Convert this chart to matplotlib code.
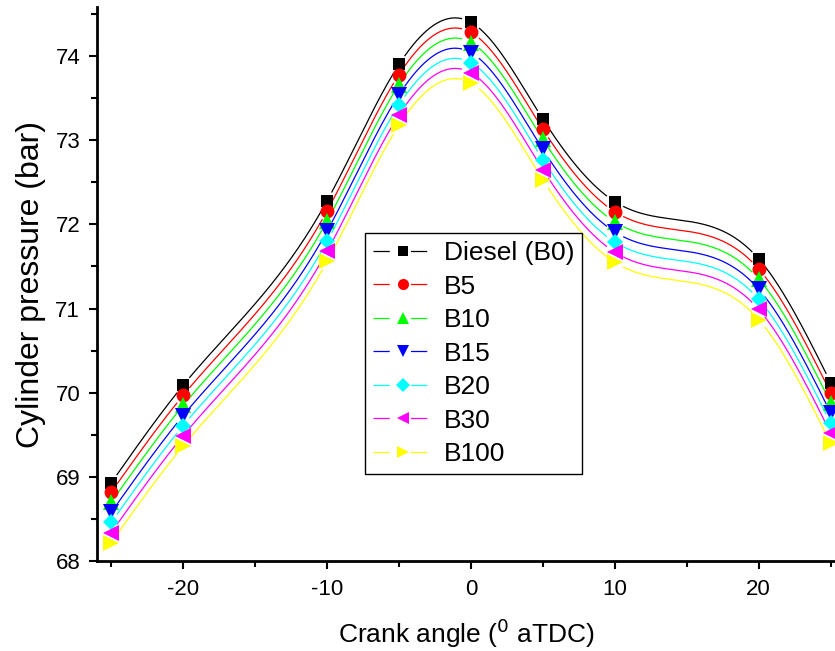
import numpy as np
import matplotlib
matplotlib.use("Agg")
import matplotlib.pyplot as plt
from matplotlib.lines import Line2D

plt.rcParams['font.family'] = ['Liberation Sans', 'DejaVu Sans']
plt.rcParams['axes.unicode_minus'] = False

# Crank angle positions (deg aTDC)
crank_angle = [-25, -20, -10, -5, 0, 5, 10, 20, 25]

# Cylinder pressure (bar) for each fuel blend
diesel_b0 = [68.93, 70.09, 72.28, 73.90, 74.40, 73.25, 72.27, 71.59, 70.12]
b5 = [68.82, 69.97, 72.16, 73.78, 74.28, 73.13, 72.15, 71.47, 70.00]
b10 = [68.70, 69.85, 72.04, 73.66, 74.16, 73.01, 72.03, 71.35, 69.88]
b15 = [68.58, 69.73, 71.92, 73.54, 74.04, 72.89, 71.91, 71.23, 69.76]
b20 = [68.46, 69.61, 71.80, 73.42, 73.92, 72.77, 71.79, 71.11, 69.64]
b30 = [68.34, 69.49, 71.68, 73.30, 73.80, 72.65, 71.67, 70.99, 69.52]
b100 = [68.22, 69.37, 71.56, 73.18, 73.68, 72.53, 71.55, 70.87, 69.40]

labels = ['Diesel (B0)', 'B5', 'B10', 'B15', 'B20', 'B30', 'B100']
series = [diesel_b0, b5, b10, b15, b20, b30, b100]
colors = ['#000000', '#ff0000', '#00ff00', '#0000ff', '#00ffff', '#ff00ff', '#ffff00']
markers = ['s', 'o', '^', 'v', 'D', '<', '>']
msizes = [8.5, 10, 11, 11, 8.5, 11, 11]


def natural_spline(x, y, xs):
    """Evaluate a natural cubic spline through (x, y) at xs."""
    x = np.asarray(x, float)
    y = np.asarray(y, float)
    n = len(x)
    h = np.diff(x)
    A = np.zeros((n, n))
    r = np.zeros(n)
    A[0, 0] = A[-1, -1] = 1.0
    for i in range(1, n - 1):
        A[i, i - 1] = h[i - 1]
        A[i, i] = 2 * (h[i - 1] + h[i])
        A[i, i + 1] = h[i]
        r[i] = 3 * ((y[i + 1] - y[i]) / h[i] - (y[i] - y[i - 1]) / h[i - 1])
    c = np.linalg.solve(A, r)
    b = (np.diff(y) / h) - h * (2 * c[:-1] + c[1:]) / 3
    d = np.diff(c) / (3 * h)
    idx = np.clip(np.searchsorted(x, xs) - 1, 0, n - 2)
    dx = xs - x[idx]
    return y[idx] + b[idx] * dx + c[idx] * dx ** 2 + d[idx] * dx ** 3


fig = plt.figure(figsize=(8.35, 6.51), dpi=100)
ax = fig.add_axes([0.116, 0.138, 0.884, 0.851])

xmin, xmax = -26.0, 25.3
ymin, ymax = 68.0, 74.58
ax.set_xlim(xmin, xmax)
ax.set_ylim(ymin, ymax)

# pixel scale of the axes, used to leave a gap in each curve around its symbols
px_x = 0.884 * 835 / (xmax - xmin)
px_y = 0.851 * 651 / (ymax - ymin)
gap_px = 10.0

xs = np.linspace(crank_angle[0], crank_angle[-1], 2000)
handles = []
for y, col, mk, ms in zip(series, colors, markers, msizes):
    ys = natural_spline(crank_angle, y, xs)
    near = np.zeros_like(xs, dtype=bool)
    for xp, yp in zip(crank_angle, y):
        dist = np.hypot((xs - xp) * px_x, (ys - yp) * px_y)
        near |= dist < gap_px
    ax.plot(xs, np.where(near, np.nan, ys), color=col, lw=0.9, zorder=2)
    ax.plot(crank_angle, y, linestyle='none', marker=mk, ms=ms, color=col,
            markeredgewidth=0, zorder=3, clip_on=False)
    seg = Line2D([], [], color=col, lw=0.9, dashes=(13, 17, 13, 100))
    sym = Line2D([], [], color=col, marker=mk, ms=ms * 0.8, linestyle='none',
                 markeredgewidth=0)
    handles.append((seg, sym))

leg = ax.legend(handles, labels, loc='upper left', bbox_to_anchor=(0.363, 0.592),
                borderaxespad=0, fontsize=19, handlelength=2.3, handletextpad=0.4,
                labelspacing=0.36, borderpad=0.3,
                fancybox=False, framealpha=1, edgecolor='black')
leg.get_frame().set_linewidth(1.0)

ax.set_xticks([-20, -10, 0, 10, 20])
ax.set_xticks([-25, -15, -5, 5, 15, 25], minor=True)
ax.set_yticks([68, 69, 70, 71, 72, 73, 74])
ax.set_yticks(np.arange(68.5, 74.6, 1.0), minor=True)
ax.tick_params(which='both', direction='out', width=1.5, labelsize=16)
ax.tick_params(which='major', length=6)
ax.tick_params(which='minor', length=4)
ax.tick_params(axis='x', pad=7)
ax.tick_params(axis='y', pad=6)

for s in ['top', 'right']:
    ax.spines[s].set_visible(False)
for s in ['left', 'bottom']:
    ax.spines[s].set_linewidth(2.0)

ax.set_xlabel('Crank angle ($^{0}$ aTDC)', fontsize=19, labelpad=12)
ax.set_ylabel('Cylinder pressure (bar)', fontsize=23, labelpad=7)

fig.savefig('out.png', dpi=100)
